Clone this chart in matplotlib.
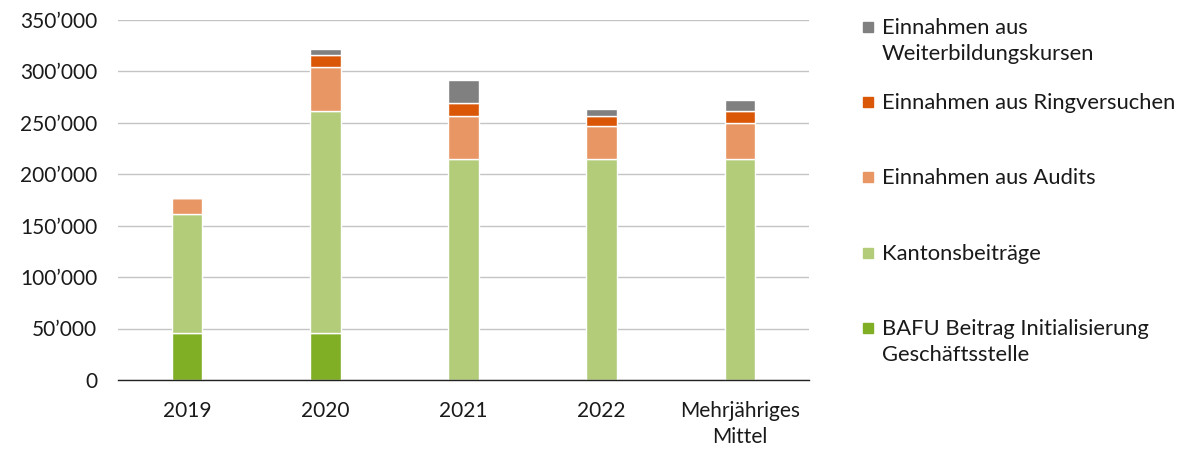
import matplotlib.pyplot as plt
from matplotlib.patches import Rectangle
from matplotlib.ticker import FuncFormatter
import numpy as np

plt.rcParams['font.family'] = ['Lato', 'DejaVu Sans']

categories = ['2019', '2020', '2021', '2022', 'Mehrjähriges\nMittel']
bafu = [46000, 46000, 0, 0, 0]
kantone = [115000, 215000, 215000, 215000, 215000]
audits = [15500, 42500, 41500, 31500, 34500]
ringversuche = [0, 12500, 12500, 10000, 11500]
kurse = [0, 5500, 22000, 6500, 11000]

series = [bafu, kantone, audits, ringversuche, kurse]
labels = ['BAFU Beitrag Initialisierung\nGeschäftsstelle', 'Kantonsbeiträge',
          'Einnahmen aus Audits', 'Einnahmen aus Ringversuchen',
          'Einnahmen aus\nWeiterbildungskursen']
colors = ['#80AF26', '#B3CC7A', '#E89664', '#DA5707', '#808080']

fig = plt.figure(figsize=(11.82, 4.49), dpi=100)
ax = fig.add_axes([118 / 1182, 69 / 449, 691 / 1182, 360.5 / 449])

x = np.arange(len(categories))
bottom = np.zeros(len(categories))
for vals, col in zip(series, colors):
    vals = np.array(vals, dtype=float)
    ax.bar(x, vals, 0.22, bottom=bottom, color=col, edgecolor='white',
           linewidth=1.0, zorder=3)
    bottom += vals

ax.set_ylim(0, 350000)
ax.set_xlim(-0.5, len(categories) - 0.5)
ax.set_yticks(np.arange(0, 350001, 50000))
ax.yaxis.set_major_formatter(FuncFormatter(lambda v, p: f"{int(v):,}".replace(',', '\u2019')))
ax.set_xticks(x)
ax.set_xticklabels(categories, linespacing=1.4)
ax.tick_params(axis='both', length=0, labelsize=15, colors='#1a1a1a')
ax.tick_params(axis='x', pad=15)
ax.tick_params(axis='y', pad=15)
ax.grid(axis='y', color='#c4c4c4', linewidth=1.0, zorder=0)
for s in ['top', 'right', 'left']:
    ax.spines[s].set_visible(False)
ax.spines['bottom'].set_color('#222222')
ax.spines['bottom'].set_linewidth(1.0)
ax.spines['bottom'].set_zorder(4)

# Legende (von oben nach unten)
leg_y = [27, 102, 177, 253, 328]
for i, yy in enumerate(leg_y):
    k = len(series) - 1 - i
    fig.patches.append(Rectangle((863 / 1182, 1 - (yy + 5) / 449), 10 / 1182, 10 / 449,
                                 transform=fig.transFigure, color=colors[k]))
    fig.text(882 / 1182, 1 - (yy - 9) / 449, labels[k], fontsize=15.8, va='top',
             ha='left', color='#1a1a1a', linespacing=1.4)

plt.savefig('out.png', dpi=100)
